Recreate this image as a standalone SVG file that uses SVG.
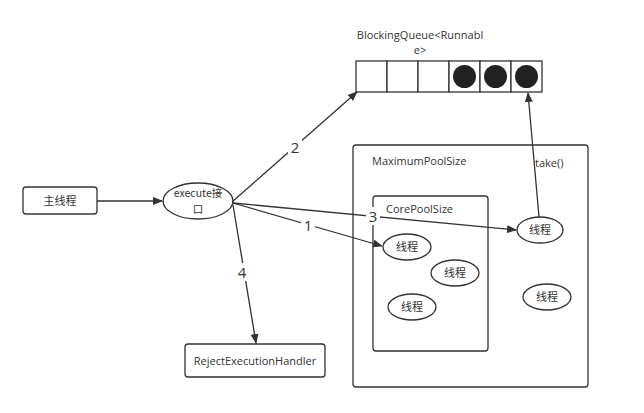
<svg xmlns="http://www.w3.org/2000/svg" width="644" height="413" viewBox="0 0 644 413">
<style>
.box{fill:#fff;stroke:#333;stroke-width:1.3}
.frame{fill:none;stroke:#333;stroke-width:1.3}
.cell{fill:#fff;stroke:#333;stroke-width:1.3}
.dot{fill:#222}
.t{font-family:"Open Sans","Noto Sans CJK SC",sans-serif;font-size:11px;fill:#333}
.cjk{font-family:"Noto Sans CJK SC",sans-serif;font-size:11px;fill:#333}
.lbl{font-family:"Open Sans","Noto Sans",sans-serif;font-size:15px;fill:#333}
.c{stroke:#333;stroke-width:1.3;fill:none;marker-end:url(#ah)}
</style>
<defs>
<marker id="ah" viewBox="0 0 10 10" refX="9" refY="5" markerWidth="10" markerHeight="10" markerUnits="userSpaceOnUse" orient="auto">
<path d="M0,1 L10,5 L0,9 z" fill="#333"/>
</marker>
</defs>
<rect width="644" height="413" fill="#fff"/>

<g id="queue">
<text class="t" x="420" y="39" text-anchor="middle">BlockingQueue&lt;Runnabl</text>
<text class="t" x="420" y="54" text-anchor="middle">e&gt;</text>
<rect class="cell" x="356" y="61" width="31" height="31"/>
<rect class="cell" x="387" y="61" width="31" height="31"/>
<rect class="cell" x="418" y="61" width="31" height="31"/>
<rect class="cell" x="449" y="61" width="31" height="31"/>
<rect class="cell" x="480" y="61" width="31" height="31"/>
<rect class="cell" x="511" y="61" width="31" height="31"/>
<circle class="dot" cx="464.5" cy="76.5" r="11.5"/>
<circle class="dot" cx="495.5" cy="76.5" r="11.5"/>
<circle class="dot" cx="526.5" cy="76.5" r="11.5"/>
</g>

<g id="maxpool">
<rect class="frame" x="353" y="145" width="235" height="242" rx="3"/>
<text class="t" x="372" y="165">MaximumPoolSize</text>
</g>

<g id="corepool">
<rect class="frame" x="373" y="196" width="115" height="155" rx="3"/>
<text class="t" x="386" y="213">CorePoolSize</text>
</g>

<g id="main">
<rect class="box" x="23" y="187" width="74" height="27" rx="3"/>
<text class="cjk" x="60" y="205" text-anchor="middle">主线程</text>
</g>

<g id="execute">
<ellipse class="box" cx="198" cy="201" rx="35" ry="18"/>
<text class="cjk" x="198" y="197" text-anchor="middle" style="font-size:10.5px">execute接</text>
<text class="cjk" x="198" y="213" text-anchor="middle" style="font-size:10.5px">口</text>
</g>

<g id="reject">
<rect class="box" x="185" y="344" width="140" height="33" rx="3"/>
<text class="t" x="255" y="365" text-anchor="middle">RejectExecutionHandler</text>
</g>

<g id="t1">
<ellipse class="box" cx="407" cy="247" rx="24" ry="13"/>
<text class="cjk" x="407" y="251" text-anchor="middle">线程</text>
</g>
<g id="t2">
<ellipse class="box" cx="455" cy="273" rx="24" ry="13"/>
<text class="cjk" x="455" y="277" text-anchor="middle">线程</text>
</g>
<g id="t3">
<ellipse class="box" cx="412" cy="307" rx="24" ry="13"/>
<text class="cjk" x="412" y="311" text-anchor="middle">线程</text>
</g>
<g id="t4">
<ellipse class="box" cx="540" cy="230" rx="23" ry="13"/>
<text class="cjk" x="540" y="234" text-anchor="middle">线程</text>
</g>
<g id="t5">
<ellipse class="box" cx="547" cy="297" rx="24" ry="13"/>
<text class="cjk" x="547" y="301" text-anchor="middle">线程</text>
</g>

<g id="connectors">
<line class="c" x1="97" y1="201" x2="162" y2="201"/>
<line class="c" x1="232" y1="202" x2="357" y2="92"/>
<line class="c" x1="233" y1="203" x2="382" y2="246"/>
<line class="c" x1="233" y1="203" x2="516" y2="230"/>
<line class="c" x1="233" y1="205" x2="256" y2="343"/>
<line class="c" x1="539" y1="217" x2="528" y2="93"/>
<rect x="288" y="138" width="14" height="18" fill="#fff"/>
<text class="lbl" x="295" y="153" text-anchor="middle">2</text>
<rect x="301" y="216" width="14" height="18" fill="#fff"/>
<text class="lbl" x="308" y="231" text-anchor="middle">1</text>
<rect x="366" y="207" width="14" height="18" fill="#fff"/>
<text class="lbl" x="373" y="222" text-anchor="middle">3</text>
<rect x="235" y="263" width="14" height="18" fill="#fff"/>
<text class="lbl" x="242" y="278" text-anchor="middle">4</text>
<text class="t" x="535" y="167">take()</text>
</g>
</svg>
